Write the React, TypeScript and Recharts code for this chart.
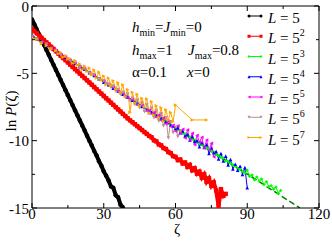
import { LineChart, Line, XAxis, YAxis } from "recharts";

type P = [number, number];

// ln P(zeta) curves, one per system size
const L5: P[] = [
  [0, -1.0], [1, -1.37], [2, -1.75], [3, -2.12], [4, -2.5], [5, -2.87], [6, -3.25], [7, -3.62], [8, -4.0], [9, -4.37],
  [10, -4.75], [11, -5.12], [12, -5.5], [13, -5.87], [14, -6.25], [15, -6.62], [16, -7.0], [17, -7.37], [18, -7.75], [19, -8.12],
  [20, -8.5], [21, -8.87], [22, -9.24], [23, -9.63], [24, -10.0], [25, -10.36], [26, -10.76], [27, -11.1], [28, -11.52], [29, -11.86],
  [30, -12.28], [31, -12.6], [32, -12.95], [33, -13.4], [34, -13.5], [35, -14.05], [36, -14.2], [37, -14.75], [38, -14.95],
];

const L25: P[] = [
  [0, -1.7], [1, -1.87], [2, -2.03], [3, -2.2], [4, -2.36], [5, -2.53], [6, -2.7], [7, -2.86], [8, -3.03], [9, -3.19],
  [10, -3.36], [11, -3.53], [12, -3.69], [13, -3.86], [14, -4.02], [15, -4.19], [16, -4.36], [17, -4.52], [18, -4.69], [19, -4.85],
  [20, -5.02], [21, -5.19], [22, -5.35], [23, -5.52], [24, -5.68], [25, -5.85], [26, -6.02], [27, -6.18], [28, -6.35], [29, -6.51],
  [30, -6.68], [31, -6.85], [32, -7.01], [33, -7.18], [34, -7.34], [35, -7.51], [36, -7.68], [37, -7.84], [38, -8.01], [39, -8.17],
  [40, -8.34], [41, -8.49], [42, -8.63], [43, -8.78], [44, -8.92], [45, -9.07], [46, -9.21], [47, -9.36], [48, -9.5], [49, -9.65],
  [50, -9.75], [51, -9.98], [52, -10.05], [53, -10.28], [54, -10.35], [55, -10.55], [56, -10.62], [57, -10.85], [58, -10.92], [59, -11.15],
  [60, -11.2], [61, -11.45], [62, -11.4], [63, -11.7], [64, -11.62], [65, -11.95], [66, -11.8], [67, -12.2], [68, -12.05], [69, -12.45],
  [70, -12.3], [71, -12.75], [72, -12.5], [73, -13.05], [74, -12.8], [75, -13.35], [76, -13.1], [77, -13.7], [78, -14.85], [79, -13.6],
  [80, -14.1], [81, -13.95],
];

const L125: P[] = [
  [0, -2.2], [2, -2.43], [4, -2.66], [6, -2.89], [8, -3.11], [10, -3.34], [12, -3.57], [14, -3.8], [16, -4.03], [18, -4.26],
  [20, -4.49], [22, -4.71], [24, -4.94], [26, -5.17], [28, -5.4], [30, -5.63], [32, -5.86], [34, -6.09], [36, -6.31], [38, -6.54],
  [40, -6.77], [42, -7.0], [44, -7.23], [46, -7.46], [48, -7.69], [50, -7.92], [52, -8.14], [54, -8.37], [56, -8.6], [58, -8.83],
  [60, -9.06], [61, -9.2], [62, -9.25], [63, -9.45], [64, -9.5], [65, -9.65], [66, -9.72], [67, -9.9], [68, -9.95], [69, -10.1],
  [70, -10.22], [71, -10.3], [72, -10.45], [73, -10.55], [74, -10.6], [75, -10.8], [76, -10.85], [77, -11.05], [78, -11.1], [79, -11.25],
  [80, -11.3], [81, -11.5], [82, -11.55], [83, -11.7], [84, -11.8], [85, -11.9], [86, -12.05], [87, -12.1], [88, -12.3], [89, -12.4],
  [90, -12.2], [91, -12.65], [92, -12.55], [93, -12.9], [94, -12.7], [95, -13.0], [96, -12.85], [97, -13.25], [98, -13.05], [99, -13.4],
  [100, -13.35], [101, -13.6], [102, -13.45], [103, -13.9], [104, -13.7],
];

const L625: P[] = [
  [0, -2.2], [2, -2.45], [4, -2.65], [6, -2.9], [8, -3.1], [10, -3.35], [12, -3.55], [14, -3.8], [16, -4.05], [18, -4.25],
  [20, -4.5], [22, -4.7], [24, -4.95], [26, -5.15], [28, -5.4], [30, -5.65], [32, -5.85], [34, -6.1], [36, -6.3], [38, -6.55],
  [40, -6.75], [42, -7.0], [44, -7.25], [46, -7.45], [48, -7.7], [50, -7.9], [52, -8.15], [54, -8.35], [56, -8.6], [58, -8.85],
  [59, -8.9], [60, -9.1], [61, -9.05], [62, -9.4], [63, -9.3], [64, -9.65], [65, -9.55], [66, -9.95], [67, -9.7], [68, -10.05],
  [69, -10.0], [70, -10.45], [71, -10.15], [72, -10.5], [73, -10.3], [74, -10.95], [75, -10.55], [76, -10.9], [77, -10.8], [78, -11.35],
  [79, -10.95], [80, -11.5], [81, -11.15], [82, -11.8], [83, -11.4], [84, -12.1], [85, -11.75], [86, -12.2], [87, -11.9], [88, -12.5],
  [89, -12.0], [90, -13.5],
];

const L3125: P[] = [
  [0, -2.25], [2, -2.45], [4, -2.7], [6, -2.9], [8, -3.15], [10, -3.35], [12, -3.6], [14, -3.8], [16, -4.05], [18, -4.25],
  [20, -4.5], [22, -4.7], [24, -4.95], [26, -5.15], [28, -5.4], [30, -5.6], [32, -5.85], [34, -6.05], [36, -6.35], [38, -6.5],
  [40, -6.8], [42, -6.95], [44, -7.3], [46, -7.4], [48, -7.75], [49, -7.75], [50, -8.0], [51, -7.9], [52, -8.25], [53, -8.1],
  [54, -8.5], [55, -8.3], [56, -8.75], [57, -8.55], [58, -8.95], [59, -8.85], [60, -9.3], [61, -8.9], [62, -9.45], [63, -9.15],
  [64, -9.8], [65, -9.2], [66, -9.95], [67, -9.45], [68, -10.3], [69, -9.6], [70, -10.1], [71, -9.75], [72, -10.55], [73, -9.95],
  [74, -10.7], [75, -10.2], [76, -11.2],
];

const L15625: P[] = [
  [0, -2.3], [2, -2.45], [4, -2.75], [6, -2.85], [8, -3.2], [10, -3.3], [12, -3.65], [14, -3.75], [16, -4.1], [18, -4.2],
  [20, -4.55], [22, -4.65], [24, -5.0], [26, -5.1], [28, -5.45], [30, -5.55], [31, -5.75], [32, -5.8], [33, -6.05], [34, -5.95],
  [35, -6.3], [36, -6.2], [37, -6.55], [38, -6.4], [39, -6.8], [40, -6.55], [41, -7.05], [42, -6.85], [43, -7.3], [44, -7.0],
  [45, -7.55], [46, -7.2], [47, -7.85], [48, -7.35], [49, -8.0], [50, -7.6], [51, -8.3], [52, -7.8], [53, -8.55], [54, -8.0],
  [55, -8.9], [56, -8.3], [57, -9.8], [58, -8.6], [59, -9.4], [60, -9.0], [61, -9.7], [62, -9.3],
];

const L78125: P[] = [
  [0, -2.35], [2, -2.5], [4, -2.8], [6, -2.95], [8, -3.2], [10, -3.35], [11, -3.55], [12, -3.45], [13, -3.8], [14, -3.7],
  [15, -3.95], [16, -3.9], [17, -4.25], [18, -4.05], [19, -4.4], [20, -4.3], [21, -4.75], [22, -4.45], [23, -4.85], [24, -4.6],
  [25, -5.1], [26, -4.75], [27, -5.35], [28, -4.9], [29, -5.5], [30, -5.2], [31, -5.85], [32, -5.35], [33, -5.9], [34, -5.55],
  [35, -6.2], [36, -5.7], [37, -6.45], [38, -5.85], [39, -6.7], [40, -6.2], [41, -7.9], [42, -6.4], [43, -7.2], [44, -6.55],
  [45, -7.4], [46, -6.85], [47, -7.5], [48, -6.9], [49, -7.95], [50, -7.1], [51, -8.1], [52, -7.4], [53, -8.3], [54, -7.55],
  [55, -8.55], [56, -7.7], [57, -8.45], [58, -7.9], [59, -8.6], [60, -7.35], [67, -8.46], [73, -8.46],
];

// straight-line fit
const FIT: P[] = [[0, -2.2], [112, -15]];

const EXPONENTS = ["", "2", "3", "4", "5", "6", "7"];
const COLORS = ["#000000", "#ff0000", "#00ff00", "#0000ff", "#ff00ff", "#bc8f8f", "#ffa500"];
const SHAPES = ["circle", "square", "diamond", "up", "left", "down", "right"];
const DATASETS = [L5, L25, L125, L625, L3125, L15625, L78125];

const X_TICKS = [0, 15, 30, 45, 60, 75, 90, 105, 120];
const Y_TICKS = [0, -2.5, -5, -7.5, -10, -12.5, -15];

const FONT = '"Liberation Serif", "Times New Roman", serif';

const toRows = (d: P[]) => d.map(([x, y]) => ({ x, y }));

function Marker({ cx, cy, shape, color, s }: any) {
  if (cx == null || cy == null) return null;
  switch (shape) {
    case "circle":
      return <circle cx={cx} cy={cy} r={s} fill={color} />;
    case "square":
      return <rect x={cx - s} y={cy - s} width={2 * s} height={2 * s} fill={color} />;
    case "diamond":
      return <polygon points={`${cx},${cy - s} ${cx + s},${cy} ${cx},${cy + s} ${cx - s},${cy}`} fill={color} />;
    case "up":
      return <polygon points={`${cx},${cy - s} ${cx + s},${cy + s} ${cx - s},${cy + s}`} fill={color} />;
    case "down":
      return <polygon points={`${cx},${cy + s} ${cx + s},${cy - s} ${cx - s},${cy - s}`} fill={color} />;
    case "left":
      return <polygon points={`${cx - s},${cy} ${cx + s},${cy - s} ${cx + s},${cy + s}`} fill={color} />;
    default:
      return <polygon points={`${cx + s},${cy} ${cx - s},${cy - s} ${cx - s},${cy + s}`} fill={color} />;
  }
}

const BottomTick = ({ x, y, payload }: any) => {
  const major = payload.value % 30 === 0;
  return (
    <g>
      <line x1={x} y1={y} x2={x} y2={y - (major ? 5 : 3)} stroke="#000" />
      {major && (
        <text x={x} y={y + 11} textAnchor="middle" fontFamily={FONT} fontSize={15} fill="#000">
          {payload.value}
        </text>
      )}
    </g>
  );
};

const TopTick = ({ x, y, payload }: any) => {
  const major = payload.value % 30 === 0;
  return <line x1={x} y1={y} x2={x} y2={y + (major ? 5 : 3)} stroke="#000" />;
};

const LeftTick = ({ x, y, payload }: any) => {
  const major = payload.value % 5 === 0;
  return (
    <g>
      <line x1={x} y1={y} x2={x + (major ? 5 : 3)} y2={y} stroke="#000" />
      {major && (
        <text x={x - 3} y={y + 5.5} textAnchor="end" fontFamily={FONT} fontSize={15} fill="#000">
          {payload.value === 0 ? "0" : `-${Math.abs(payload.value)}`}
        </text>
      )}
    </g>
  );
};

const RightTick = ({ x, y, payload }: any) => {
  const major = payload.value % 5 === 0;
  return <line x1={x} y1={y} x2={x - (major ? 5 : 3)} y2={y} stroke="#000" />;
};

const STROKES = [4, 4, 1, 1, 1, 1, 1];
const SIZES = [2.2, 2.2, 1.8, 1.8, 1.8, 1.8, 1.8];

export default function App() {
  return (
    <div style={{ position: "absolute", left: 0, top: 0, width: 332, height: 242, background: "#fff" }}>
      <LineChart width={332} height={242} margin={{ top: 0, right: 0, bottom: 0, left: 0 }}>
        <XAxis
          xAxisId="b"
          dataKey="x"
          type="number"
          domain={[0, 120]}
          ticks={X_TICKS}
          interval={0}
          height={34}
          tickSize={0}
          tickMargin={0}
          tickLine={false}
          tick={<BottomTick />}
          axisLine={{ stroke: "#000" }}
          allowDataOverflow
        />
        <XAxis
          xAxisId="t"
          orientation="top"
          dataKey="x"
          type="number"
          domain={[0, 120]}
          ticks={X_TICKS}
          interval={0}
          height={6}
          tickSize={0}
          tickMargin={0}
          tickLine={false}
          tick={<TopTick />}
          axisLine={{ stroke: "#000" }}
          allowDataOverflow
        />
        <YAxis
          yAxisId="l"
          type="number"
          domain={[-15, 0]}
          ticks={Y_TICKS}
          interval={0}
          width={32}
          tickSize={0}
          tickMargin={0}
          tickLine={false}
          tick={<LeftTick />}
          axisLine={{ stroke: "#000" }}
          allowDataOverflow
        />
        <YAxis
          yAxisId="r"
          orientation="right"
          type="number"
          domain={[-15, 0]}
          ticks={Y_TICKS}
          interval={0}
          width={13}
          tickSize={0}
          tickMargin={0}
          tickLine={false}
          tick={<RightTick />}
          axisLine={{ stroke: "#000" }}
          allowDataOverflow
        />
        {DATASETS.map((d, i) => (
          <Line
            key={i}
            xAxisId="b"
            yAxisId="l"
            data={toRows(d)}
            dataKey="y"
            type="linear"
            stroke={COLORS[i]}
            strokeWidth={STROKES[i]}
            isAnimationActive={false}
            dot={(p: any) => (
              <Marker key={`m${i}-${p.index}`} cx={p.cx} cy={p.cy} shape={SHAPES[i]} color={COLORS[i]} s={SIZES[i]} />
            )}
            activeDot={false}
          />
        ))}
        <Line
          xAxisId="t"
          yAxisId="r"
          data={toRows(FIT)}
          dataKey="y"
          type="linear"
          stroke="#008000"
          strokeWidth={1.5}
          strokeDasharray="6 3"
          dot={false}
          activeDot={false}
          isAnimationActive={false}
        />
      </LineChart>
      <svg width={332} height={242} style={{ position: "absolute", left: 0, top: 0, pointerEvents: "none" }}>
        <g fontFamily={FONT} fontSize={15} fill="#000">
          <text x={132} y={32}>
            <tspan fontStyle="italic">h</tspan>
            <tspan fontSize={10} dy={4}>min</tspan>
            <tspan dy={-4}>=</tspan>
            <tspan fontStyle="italic">J</tspan>
            <tspan fontSize={10} dy={4}>min</tspan>
            <tspan dy={-4}>=0</tspan>
          </text>
          <text x={132} y={54.5}>
            <tspan fontStyle="italic">h</tspan>
            <tspan fontSize={10} dy={4}>max</tspan>
            <tspan dy={-4}>=1</tspan>
          </text>
          <text x={188} y={54.5}>
            <tspan fontStyle="italic">J</tspan>
            <tspan fontSize={10} dy={4}>max</tspan>
            <tspan dy={-4}>=0.8</tspan>
          </text>
          <text x={132} y={77}>α=0.1</text>
          <text x={187} y={77}>
            <tspan fontStyle="italic">x</tspan>=0
          </text>
          <text x={177} y={234} textAnchor="middle">ζ</text>
          <text x={16} y={111} textAnchor="middle" transform="rotate(-90 16 111)">
            ln <tspan fontStyle="italic">P</tspan>(ζ)
          </text>
          {EXPONENTS.map((e, i) => {
            const cy = 16 + i * 20.25;
            return (
              <g key={i}>
                <line x1={249} y1={cy} x2={261} y2={cy} stroke={COLORS[i]} strokeWidth={1} />
                <Marker cx={249} cy={cy} shape={SHAPES[i]} color={COLORS[i]} s={1.5} />
                <Marker cx={261} cy={cy} shape={SHAPES[i]} color={COLORS[i]} s={1.5} />
                <text x={268} y={cy + 7}>
                  <tspan fontStyle="italic">L</tspan> = 5
                  {e && (
                    <tspan fontSize={10} dy={-7}>
                      {e}
                    </tspan>
                  )}
                </text>
              </g>
            );
          })}
        </g>
      </svg>
    </div>
  );
}
